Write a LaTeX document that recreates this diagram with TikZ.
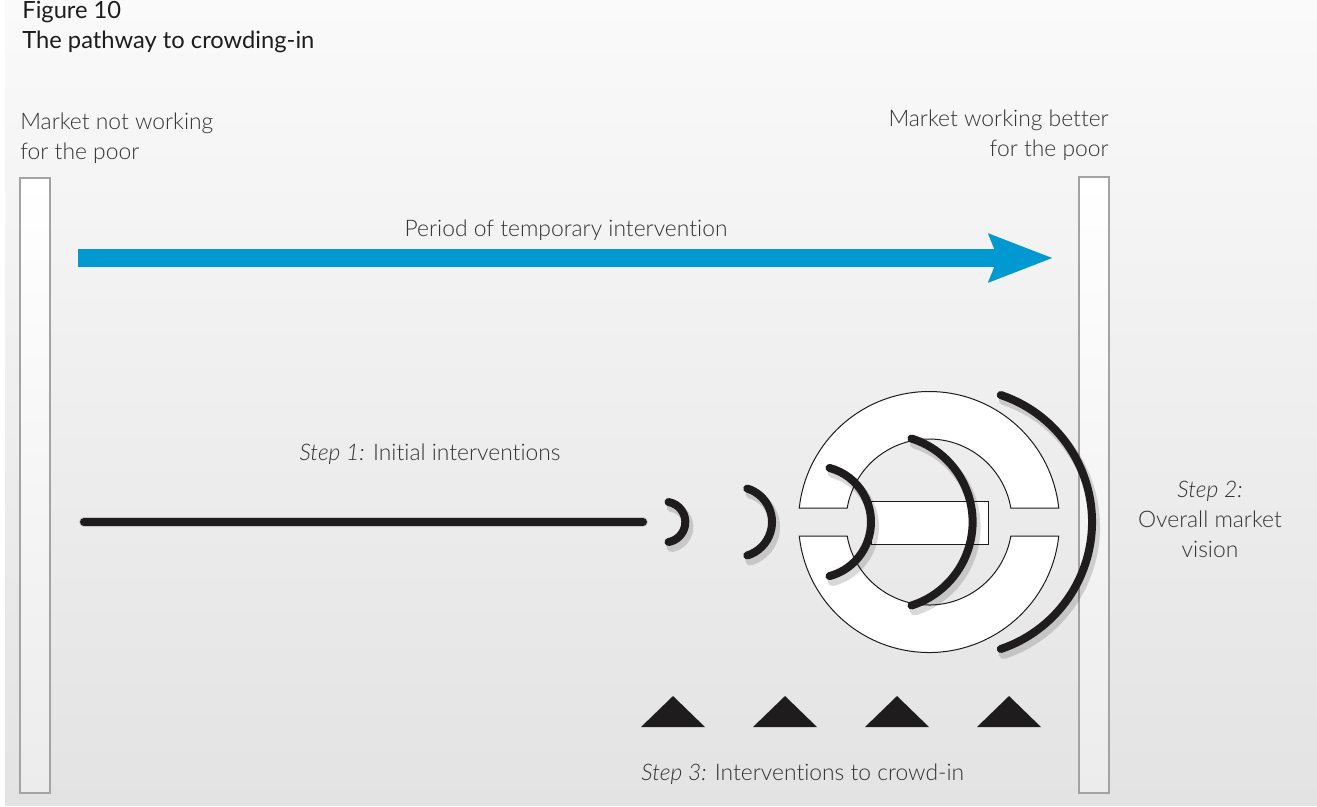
\documentclass[tikz,border=0pt]{standalone}
\usepackage{fontspec}
\setmainfont{Lato Light}[Ligatures=NoCommon]
\newfontfamily\titlefont{Lato}[Ligatures=NoCommon]
\usepackage{tikz}
\usetikzlibrary{arrows.meta, calc}
\definecolor{bgtop}{HTML}{FAFAFA}
\definecolor{bgbot}{HTML}{E2E3E2}
\definecolor{bargray}{HTML}{A3A3A3}
\definecolor{barbot}{HTML}{EBECEB}
\definecolor{flowblue}{HTML}{0099D2}
\definecolor{txtgray}{HTML}{333333}
\definecolor{inkblack}{HTML}{1E1C1D}
\tikzstyle{heading} = [font=\titlefont\fontsize{13.5}{16}\selectfont, text=inkblack, inner sep=0pt, anchor=base west]
\tikzstyle{txt} = [font=\fontsize{13}{17}\selectfont, text=txtgray, inner sep=0pt]
\tikzstyle{bar} = [top color=white, bottom color=barbot, draw=bargray, line width=0.03cm]
\tikzstyle{flow} = [line width=0.36cm, draw=flowblue, -{Stealth[length=1.26cm, width=0.92cm, inset=0.16cm]}]
\tikzstyle{flowshadow} = [line width=0.36cm, draw=black, opacity=0.15, -{Stealth[length=1.26cm, width=0.92cm, inset=0.16cm]}, shift={(3,5)}]
\tikzstyle{wave} = [line width=0.16cm, draw=inkblack, line cap=round]
\tikzstyle{waveshadow} = [line width=0.2cm, draw=black, opacity=0.15, line cap=round, shift={(3,5)}]
\tikzstyle{ring} = [fill=white, draw=inkblack, line width=0.02cm]
\tikzstyle{peak} = [fill=inkblack]

\begin{document}
\begin{tikzpicture}[x=0.02cm, y=-0.02cm]
\useasboundingbox (0,0) rectangle (1317,806);
\fill[white] (0,0) rectangle (1317,806);
\shade[top color=bgtop, bottom color=bgbot] (5,0) rectangle (1317,805);

\node (fig) [heading] at (22,18) {Figure 10};
\node (title) [heading] at (22,48) {The pathway to crowding-in};
\node (notworking) [txt, align=left, anchor=north west] at (20,113) {Market not working\\for the poor};
\node (working) [txt, align=right, anchor=north east] at (1109,110) {Market working better\\for the poor};

\shadedraw[bar] (20,178) rectangle (50,793);
\shadedraw[bar] (1079,177) rectangle (1109,793);

\node (period) [txt, anchor=base] at (566,236) {Period of temporary intervention};
\coordinate (flowtail) at (78,258);
\coordinate (flowtip) at (1053,258);
\draw[flowshadow] (flowtail) -- (flowtip);
\draw[flow] (flowtail) -- (flowtip);

\node (step1) [txt, anchor=base] at (430,460) {\textit{Step 1:} Initial interventions};
\node (step2) [txt, align=center, anchor=north] at (1210,481) {\textit{Step 2:}\\Overall market\\vision};
\node (step3) [txt, anchor=base west] at (641,780) {\textit{Step 3:} Interventions to crowd-in};

\coordinate (hub) at (929,522);
\filldraw[ring] ($(hub)+(-6.16:130.5)$) arc[start angle=-6.16, end angle=-173.84, radius=130.5] -- ($(hub)+(-170.29:83)$) arc[start angle=-170.29, end angle=-9.71, radius=83] -- cycle;
\filldraw[ring] ($(hub)+(6.16:130.5)$) arc[start angle=6.16, end angle=173.84, radius=130.5] -- ($(hub)+(170.29:83)$) arc[start angle=170.29, end angle=9.71, radius=83] -- cycle;
\filldraw[ring] (871,501) rectangle (988,544);

\coordinate (pathtail) at (84,522);
\coordinate (pathhead) at (643,522);
\draw[waveshadow] (pathtail) -- (pathhead);
\draw[waveshadow] ($(665,522)+(-80:20.3)$) arc[start angle=-80, end angle=80, radius=20.3];
\draw[waveshadow] ($(737,522)+(-73:35)$) arc[start angle=-73, end angle=73, radius=35];
\draw[waveshadow] ($(815,522)+(-75:56)$) arc[start angle=-75, end angle=75, radius=56];
\draw[waveshadow] ($(885,522)+(-72.4:87.6)$) arc[start angle=-72.4, end angle=72.4, radius=87.6];
\draw[waveshadow] ($(958,522)+(-71.4:134)$) arc[start angle=-71.4, end angle=71.4, radius=134];
\draw[wave] (pathtail) -- (pathhead);
\draw[wave] ($(665,522)+(-80:20.3)$) arc[start angle=-80, end angle=80, radius=20.3];
\draw[wave] ($(737,522)+(-73:35)$) arc[start angle=-73, end angle=73, radius=35];
\draw[wave] ($(815,522)+(-75:56)$) arc[start angle=-75, end angle=75, radius=56];
\draw[wave] ($(885,522)+(-72.4:87.6)$) arc[start angle=-72.4, end angle=72.4, radius=87.6];
\draw[wave] ($(958,522)+(-71.4:134)$) arc[start angle=-71.4, end angle=71.4, radius=134];

\fill[peak] (641,727) -- (673,696) -- (705,727) -- cycle;
\fill[peak] (753,727) -- (785,696) -- (817,727) -- cycle;
\fill[peak] (865,727) -- (897,696) -- (929,727) -- cycle;
\fill[peak] (977,727) -- (1009,696) -- (1041,727) -- cycle;
\end{tikzpicture}
\end{document}
